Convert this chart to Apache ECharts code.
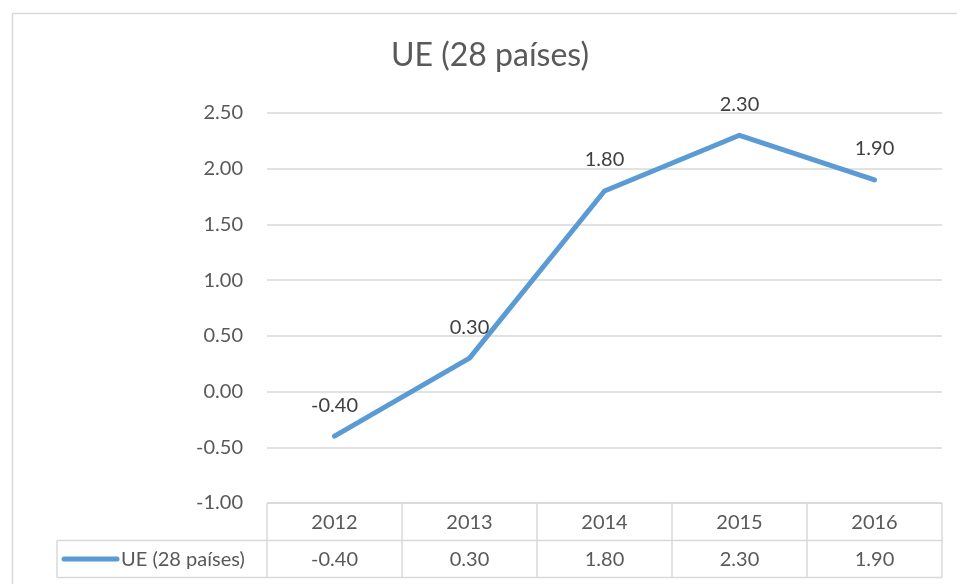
<!DOCTYPE html>
<html>
<head>
<meta charset="utf-8">
<script src="https://cdn.jsdelivr.net/npm/echarts@6/dist/echarts.min.js"></script>
<style>html,body{margin:0;padding:0;background:#fff;}#c{width:957px;height:584px;}</style>
</head>
<body>
<div id="c"></div>
<script>
var categories = ['2012', '2013', '2014', '2015', '2016'];
var seriesName = 'UE (28 países)';
var values = [-0.40, 0.30, 1.80, 2.30, 1.90];
var yTicks = [-1.00, -0.50, 0.00, 0.50, 1.00, 1.50, 2.00, 2.50];

var FONT = 'Lato';
var TXT = '#595959';
var GRIDC = '#d9d9d9';
var G = {left: 267, right: 15, top: 113, bottom: 81};
var W = 957, H = 584;
var plotR = W - G.right, plotB = H - G.bottom;
var rowH = 37;

var chart = echarts.init(document.getElementById('c'), null, {renderer: 'canvas'});

function buildTable() {
  var els = [];
  var n = categories.length;
  var cw = (plotR - G.left) / n;
  var r1 = plotB, r2 = plotB + rowH + 0.5, r3 = r2 + rowH;
  var ls = {stroke: GRIDC, lineWidth: 1.5};
  els.push({type: 'line', shape: {x1: G.left, y1: r1, x2: plotR, y2: r1}, style: ls});
  els.push({type: 'line', shape: {x1: 57, y1: r2, x2: plotR, y2: r2}, style: ls});
  els.push({type: 'line', shape: {x1: 57, y1: r3, x2: plotR, y2: r3}, style: ls});
  els.push({type: 'line', shape: {x1: 57, y1: r2, x2: 57, y2: r3}, style: ls});
  for (var i = 0; i <= n; i++) {
    var x = G.left + i * cw;
    els.push({type: 'line', shape: {x1: x, y1: r1, x2: x, y2: r3}, style: ls});
  }
  for (var j = 0; j < n; j++) {
    var cx = G.left + (j + 0.5) * cw;
    els.push({type: 'text', x: cx, y: (r1 + r2) / 2 + 1, style: {text: categories[j], fill: TXT, font: '20px ' + FONT, align: 'center', verticalAlign: 'middle'}});
    els.push({type: 'text', x: cx, y: (r2 + r3) / 2 + 1, style: {text: values[j].toFixed(2), fill: TXT, font: '20px ' + FONT, align: 'center', verticalAlign: 'middle'}});
  }
  els.push({type: 'line', shape: {x1: 64, y1: (r2 + r3) / 2, x2: 117, y2: (r2 + r3) / 2}, style: {stroke: '#5B9BD5', lineWidth: 5, lineCap: 'round'}});
  els.push({type: 'text', x: 121, y: (r2 + r3) / 2 + 1, style: {text: seriesName, fill: TXT, font: '20px ' + FONT, align: 'left', verticalAlign: 'middle'}});
  els.push({type: 'rect', shape: {x: 12.5, y: 13.5, width: 1000, height: 700}, style: {fill: 'none', stroke: GRIDC, lineWidth: 1.5}, z: -1});
  els.push({type: 'text', x: 490, y: 40, style: {text: seriesName, fill: TXT, font: '32px ' + FONT, align: 'center', verticalAlign: 'top'}});
  return els;
}

chart.setOption({
  animation: false,
  backgroundColor: '#fff',
  grid: {left: G.left, right: G.right, top: G.top, bottom: G.bottom, containLabel: false},
  xAxis: {
    type: 'category', data: categories, boundaryGap: true,
    axisLine: {show: false}, axisTick: {show: false}, axisLabel: {show: false}, splitLine: {show: false}
  },
  yAxis: {
    type: 'value', min: -1, max: 2.5, interval: 0.5,
    axisLine: {show: false}, axisTick: {show: false},
    axisLabel: {
      margin: 24, color: TXT, fontFamily: FONT, fontSize: 20,
      formatter: function (v) {
        for (var i = 0; i < yTicks.length; i++) if (Math.abs(yTicks[i] - v) < 1e-9) return yTicks[i].toFixed(2);
        return '';
      }
    },
    splitLine: {lineStyle: {color: GRIDC, width: 1.5}}
  },
  series: [{
    name: seriesName, type: 'line', data: values,
    showSymbol: true, showAllSymbol: true, symbol: 'circle', symbolSize: 2,
    lineStyle: {color: '#5B9BD5', width: 5, cap: 'round', join: 'round'},
    itemStyle: {color: 'rgba(91,155,213,0)', borderWidth: 0},
    label: {
      show: true, position: 'top', distance: 20, color: '#404040', fontFamily: FONT, fontSize: 20,
      formatter: function (p) { return Number(p.value).toFixed(2); }
    }
  }],
  graphic: buildTable()
});
</script>
</body>
</html>
